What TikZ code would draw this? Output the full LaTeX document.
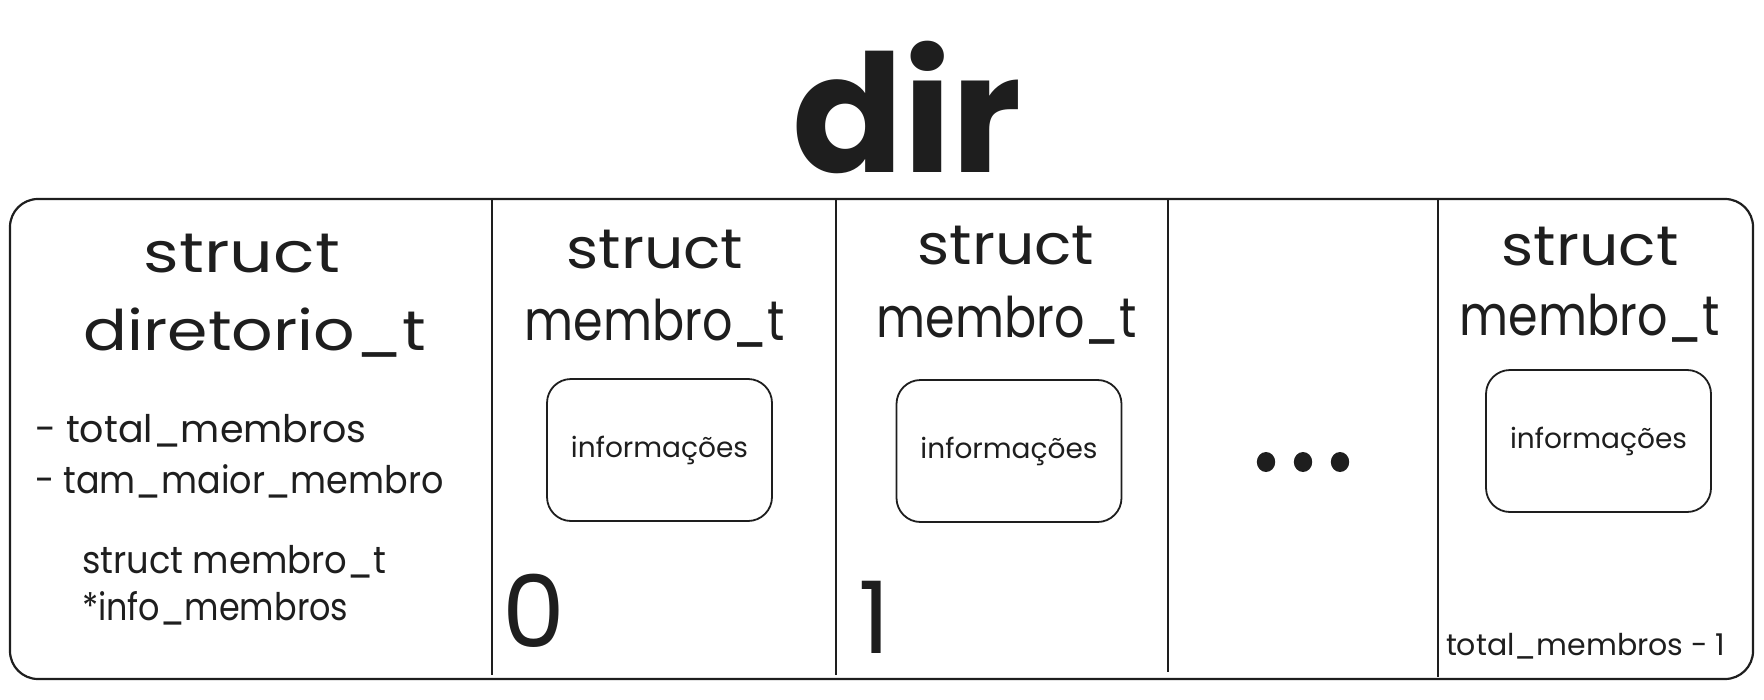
\documentclass[tikz,border=0pt]{standalone}
\usepackage{graphicx}
\usepackage{fontspec}
\setmainfont{Poppins}
\definecolor{ink}{HTML}{1E1E1E}
\newcommand\hsq[2]{\scalebox{#1}[1]{#2}}
\begin{document}
\begin{tikzpicture}[x=0.5pt,y=-0.5pt,
  every node/.style={inner sep=0pt,outer sep=0pt,text=ink},
  bigtxt/.style={font=\fontsize{28}{31}\selectfont,anchor=base},
  medtxt/.style={font=\fontsize{19}{22}\selectfont,anchor=base west},
  smalltxt/.style={font=\fontsize{14}{16}\selectfont},
  infobox/.style={draw=ink,line width=0.9pt,rounded corners=12pt,minimum width=112.5pt,minimum height=71pt,smalltxt},
  numtxt/.style={font=\fontsize{50}{52}\selectfont,anchor=base west},
  frame/.style={draw=ink,line width=1.1pt}]
\useasboundingbox (0,0) rectangle (1764,700);
% title
\node[font=\fontsize{82}{90}\selectfont\bfseries,anchor=base] (title) at (907,173) {dir};
% outer frame and dividers
\draw[frame,rounded corners=14pt] (10,199) rectangle (1753,679);
\draw[frame] (492,199) -- (492,675);
\draw[frame] (836,199) -- (836,675);
\draw[frame] (1168,199) -- (1168,672);
\draw[frame] (1438,199) -- (1438,677);
% left cell
\node[bigtxt] (s0) at (242,272) {\hsq{1.22}{struct}};
\node[bigtxt] (d0) at (255,350) {\hsq{1.16}{diretorio\_t}};
\node[medtxt] (f1) at (35,442) {- total\_membros};
\node[medtxt] (f2) at (35,493) {\hsq{0.92}{- tam\_maior\_membro}};
\node[medtxt] (f3) at (82,573) {\hsq{0.93}{struct membro\_t}};
\node[medtxt] (f4) at (82,620) {\hsq{0.88}{*info\_membros}};
% cell 0
\node[bigtxt] (s1) at (655,268) {\hsq{1.1}{struct}};
\node[bigtxt] (m1) at (655,340) {\hsq{0.85}{membro\_t}};
\node[infobox] (b1) at (659.5,450) {informações};
\node[numtxt] (n0) at (502,647) {0};
% cell 1
\node[bigtxt] (s2) at (1006,264) {\hsq{1.1}{struct}};
\node[bigtxt] (m2) at (1007,337) {\hsq{0.85}{membro\_t}};
\node[infobox] (b2) at (1009,451) {informações};
\node[numtxt] (n1) at (858,653) {1};
% ellipsis
\fill[ink] (1266,462) ellipse (4.6pt and 5pt);
\fill[ink] (1303,462) ellipse (4.6pt and 5pt);
\fill[ink] (1340,462) ellipse (4.6pt and 5pt);
% last cell
\node[bigtxt] (s3) at (1590,265) {\hsq{1.1}{struct}};
\node[bigtxt] (m3) at (1590,335) {\hsq{0.85}{membro\_t}};
\node[infobox] (b3) at (1598.5,441) {informações};
\node[font=\fontsize{15}{17}\selectfont,anchor=base west] (last) at (1446,655) {total\_membros - 1};
\end{tikzpicture}
\end{document}
